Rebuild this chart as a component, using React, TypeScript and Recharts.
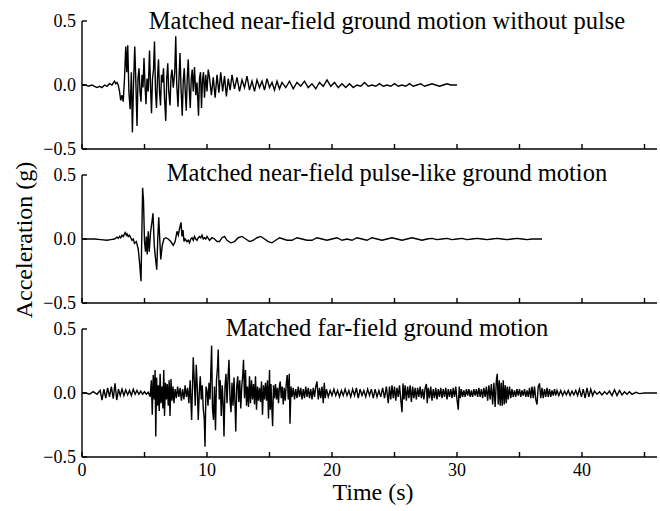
import { Line, LineChart, XAxis, YAxis } from 'recharts';

const FONT = '"Liberation Serif", "Times New Roman", Times, serif';

const X_TICKS = [0, 5, 10, 15, 20, 25, 30, 35, 40, 45];
const Y_TICKS = [-0.5, 0, 0.5];

const TITLES = [
  'Matched near-field ground motion without pulse',
  'Matched near-field pulse-like ground motion',
  'Matched far-field ground motion',
];

// [time (s), acceleration (g)]
const nearNoPulse: [number, number][] = [
  [0, 0], [0.3, 0.0], [0.5, -0.01], [0.8, 0.0], [1.0, -0.01], [1.2, -0.02], [1.4, -0.01], [1.6, -0.02],
  [1.8, 0.0], [2.0, -0.01], [2.2, 0.01], [2.4, 0.0], [2.6, 0.03], [2.7, 0.01], [2.8, 0.02], [2.9, 0.0],
  [3.0, -0.05], [3.1, -0.12], [3.2, -0.08], [3.3, -0.13], [3.4, 0.05], [3.5, 0.3], [3.58, 0.1], [3.66, 0.31],
  [3.75, -0.05], [3.85, -0.19], [3.95, 0.1], [4.03, -0.37], [4.12, 0.0], [4.22, 0.3], [4.3, 0.05], [4.4, -0.32],
  [4.48, 0.05], [4.56, 0.13], [4.64, -0.05], [4.72, -0.13], [4.8, 0.08], [4.88, -0.02], [4.96, 0.21], [5.04, 0.0],
  [5.12, -0.15], [5.2, 0.05], [5.3, -0.05], [5.4, 0.27], [5.48, 0.0], [5.56, -0.22], [5.64, 0.05], [5.72, 0.12],
  [5.8, 0.34], [5.88, -0.05], [5.96, -0.18], [6.04, 0.05], [6.12, 0.2], [6.2, -0.05], [6.28, -0.16], [6.36, 0.08],
  [6.44, 0.02], [6.52, 0.13], [6.6, -0.1], [6.7, -0.28], [6.78, 0.05], [6.86, 0.17], [6.94, -0.05], [7.04, -0.16],
  [7.12, 0.06], [7.2, 0.12], [7.3, -0.02], [7.42, 0.1], [7.5, 0.38], [7.58, 0.0], [7.68, -0.17], [7.76, 0.05],
  [7.84, 0.25], [7.92, -0.02], [8.02, -0.24], [8.1, 0.03], [8.18, 0.13], [8.26, -0.05], [8.34, -0.2], [8.42, 0.05],
  [8.5, 0.2], [8.58, -0.03], [8.66, -0.18], [8.74, 0.05], [8.82, 0.12], [8.9, -0.05], [9.0, 0.14], [9.1, -0.08],
  [9.2, 0.02], [9.32, -0.24], [9.4, 0.05], [9.48, 0.1], [9.56, -0.18], [9.64, 0.04], [9.72, 0.1], [9.8, -0.1],
  [9.9, 0.08], [10.0, -0.05], [10.1, 0.12], [10.2, 0.06], [10.35, -0.08], [10.5, 0.06], [10.65, -0.1], [10.8, 0.08],
  [10.95, -0.06], [11.1, 0.1], [11.25, -0.05], [11.4, 0.07], [11.55, -0.09], [11.7, 0.05], [11.85, -0.04], [12.0, 0.08],
  [12.2, -0.03], [12.4, 0.06], [12.6, -0.05], [12.8, 0.04], [13.0, -0.02], [13.2, 0.07], [13.4, -0.04], [13.6, 0.03],
  [13.8, -0.05], [14.0, 0.04], [14.2, -0.02], [14.4, 0.03], [14.6, -0.04], [14.8, 0.05], [15.0, -0.02], [15.2, 0.02],
  [15.4, -0.04], [15.6, 0.03], [15.8, -0.03], [16.0, 0.02], [16.3, -0.02], [16.6, 0.03], [16.9, -0.03], [17.2, 0.02],
  [17.5, -0.01], [17.8, 0.03], [18.1, -0.02], [18.4, 0.01], [18.7, -0.03], [19.0, 0.02], [19.3, -0.01], [19.6, 0.04],
  [19.9, -0.01], [20.2, 0.02], [20.5, -0.02], [20.8, 0.01], [21.1, -0.02], [21.4, 0.01], [21.7, -0.02], [22.0, 0.0],
  [22.3, -0.01], [22.6, 0.02], [22.9, -0.01], [23.2, 0.0], [23.5, -0.01], [23.8, 0.01], [24.1, -0.01], [24.4, 0.0],
  [24.7, -0.01], [25.0, 0.01], [25.3, -0.01], [25.6, 0.0], [25.9, -0.01], [26.2, 0.01], [26.5, -0.01], [26.8, 0.0],
  [27.1, 0.01], [27.4, -0.01], [27.7, 0.0], [28.0, 0.01], [28.3, 0.0], [28.6, -0.01], [28.9, 0.0], [29.2, 0.01],
  [29.5, 0.0], [30.0, 0.0],
];

const nearPulse: [number, number][] = [
  [0, 0], [0.5, 0], [1.0, 0.0], [1.5, -0.005], [2.0, -0.01], [2.3, -0.005], [2.6, 0.0], [2.8, 0.015],
  [2.9, 0.005], [3.0, 0.02], [3.1, 0.01], [3.2, 0.03], [3.3, 0.02], [3.45, 0.05], [3.55, 0.03], [3.6, 0.04],
  [3.7, 0.02], [3.8, 0.03], [3.9, 0.01], [4.0, -0.01], [4.1, 0.0], [4.2, -0.035], [4.35, -0.02],
  [4.5, -0.08], [4.62, -0.2], [4.72, -0.33], [4.78, 0.0], [4.85, 0.4], [4.92, 0.3], [5.0, -0.02], [5.08, -0.1],
  [5.15, 0.02], [5.22, -0.12], [5.3, 0.06], [5.38, -0.1], [5.48, 0.05], [5.58, 0.12], [5.68, 0.2], [5.78, -0.05],
  [5.88, -0.15], [5.98, -0.24], [6.06, 0.0], [6.14, 0.17], [6.22, 0.0], [6.3, -0.16], [6.42, -0.05], [6.55, 0.0],
  [6.7, 0.01], [6.9, 0.0], [7.1, -0.02], [7.3, -0.05], [7.45, -0.02], [7.6, 0.06], [7.7, 0.03], [7.8, 0.08],
  [7.92, 0.13], [8.0, 0.02], [8.08, 0.07], [8.16, -0.02], [8.25, 0.0], [8.4, -0.02], [8.5, -0.01], [8.6, -0.03],
  [8.7, 0.0], [8.8, 0.01], [8.9, -0.01], [9.0, 0.02], [9.1, 0.0], [9.2, -0.01], [9.3, 0.01], [9.4, 0.02],
  [9.5, 0.01], [9.6, 0.03], [9.7, 0.0], [9.8, 0.01], [9.9, 0.0], [10.0, 0.02], [10.2, -0.01], [10.4, 0.01],
  [10.6, 0.0], [10.8, -0.02], [11.0, -0.02], [11.2, 0.01], [11.4, 0.02], [11.6, -0.01], [11.9, -0.03], [12.2, -0.02],
  [12.5, 0.01], [12.8, 0.02], [13.1, 0.0], [13.4, -0.02], [13.7, -0.01], [14.0, 0.01], [14.3, 0.02], [14.6, 0.0],
  [14.9, -0.02], [15.2, -0.03], [15.5, -0.01], [15.8, 0.01], [16.1, 0.0], [16.4, -0.01], [16.8, -0.01], [17.2, 0.01],
  [17.6, 0.0], [18.0, -0.01], [18.4, -0.01], [18.8, 0.01], [19.2, 0.0], [19.6, -0.01], [20.0, 0.0], [20.4, 0.01],
  [20.8, -0.01], [21.2, 0.0], [21.6, -0.01], [22.0, 0.01], [22.4, 0.0], [22.8, -0.01], [23.2, 0.01], [23.6, 0.0],
  [24.0, -0.01], [24.4, 0.0], [24.8, 0.01], [25.2, 0.0], [25.6, -0.01], [26.0, 0.0], [26.4, 0.01], [26.8, 0.0],
  [27.2, -0.01], [27.6, 0.0], [28.0, 0.005], [28.4, -0.005], [28.8, 0.0], [29.2, 0.005], [29.6, -0.005], [30.0, 0.0],
  [30.4, 0.005], [30.8, -0.005], [31.2, 0.0], [31.6, 0.005], [32.0, 0.0], [32.4, -0.005], [32.8, 0.0], [33.2, 0.005],
  [33.6, 0.0], [34.0, -0.005], [34.4, 0.0], [34.8, 0.005], [35.2, 0.0], [35.6, -0.005], [36.0, 0.0], [36.5, 0.0],
  [36.8, 0.0],
];

const farField: [number, number][] = [
  [0, 0], [0.3, 0.0], [0.6, -0.01], [0.9, 0.01], [1.2, -0.01], [1.45, 0.02], [1.6, -0.055], [1.75, 0.03],
  [1.9, -0.04], [2.05, 0.04], [2.2, -0.03], [2.35, 0.05], [2.5, -0.045], [2.64, 0.075], [2.78, -0.055], [2.92, 0.03],
  [3.06, -0.02], [3.2, 0.03], [3.35, -0.02], [3.5, 0.025], [3.65, -0.015], [3.8, 0.02], [3.95, -0.02], [4.1, 0.03],
  [4.25, -0.01], [4.4, 0.02], [4.55, -0.01], [4.7, 0.015], [4.85, -0.01], [5.0, 0.01], [5.15, -0.01], [5.3, 0.005],
  [5.45, -0.03], [5.55, 0.1], [5.62, -0.17], [5.7, 0.14], [5.78, -0.05], [5.85, 0.18], [5.9, -0.34], [5.97, 0.12],
  [6.04, -0.1], [6.11, 0.06], [6.18, -0.14], [6.25, 0.15], [6.32, -0.08], [6.4, 0.05], [6.47, -0.12], [6.54, 0.18],
  [6.6, -0.18], [6.68, 0.08], [6.75, -0.05], [6.82, 0.07], [6.9, -0.1], [6.97, 0.1], [7.04, -0.18], [7.12, 0.11],
  [7.2, -0.06], [7.28, 0.05], [7.36, -0.08], [7.45, 0.03], [7.55, -0.04], [7.65, 0.05], [7.75, -0.03], [7.85, 0.04],
  [7.95, -0.06], [8.05, 0.03], [8.15, -0.05], [8.25, 0.06], [8.35, -0.03], [8.45, 0.04], [8.55, -0.08], [8.65, 0.1],
  [8.77, -0.21], [8.9, 0.28], [8.98, 0.1], [9.06, -0.1], [9.14, 0.22], [9.22, 0.05], [9.3, -0.21], [9.38, 0.0],
  [9.46, 0.13], [9.54, -0.05], [9.62, 0.06], [9.7, -0.12], [9.78, -0.2], [9.84, -0.42], [9.92, 0.05], [10.0, 0.02],
  [10.08, -0.1], [10.16, 0.08], [10.24, -0.05], [10.3, 0.15], [10.37, 0.37], [10.44, -0.12], [10.52, -0.21], [10.6, 0.05],
  [10.68, -0.29], [10.76, 0.1], [10.84, 0.2], [10.9, 0.34], [10.98, -0.05], [11.06, 0.1], [11.14, -0.18], [11.22, 0.06],
  [11.3, -0.1], [11.36, -0.34], [11.44, 0.05], [11.52, 0.15], [11.6, -0.08], [11.68, 0.12], [11.76, 0.26], [11.84, -0.05],
  [11.92, -0.15], [12.0, 0.08], [12.08, -0.1], [12.16, 0.12], [12.24, -0.08], [12.3, -0.3], [12.38, 0.05], [12.46, 0.13],
  [12.54, -0.07], [12.62, 0.1], [12.7, -0.12], [12.78, 0.05], [12.86, 0.14], [12.92, 0.26], [13.0, -0.04], [13.08, 0.18],
  [13.16, -0.1], [13.24, 0.05], [13.32, -0.11], [13.4, 0.13], [13.48, -0.08], [13.56, 0.1], [13.64, -0.05], [13.72, 0.07],
  [13.8, -0.09], [13.88, 0.13], [13.96, -0.13], [14.04, 0.05], [14.12, -0.06], [14.2, 0.04], [14.28, -0.07], [14.36, 0.09],
  [14.44, -0.17], [14.52, 0.06], [14.6, -0.05], [14.68, 0.08], [14.76, -0.06], [14.84, 0.1], [14.92, -0.2], [15.0, 0.18],
  [15.06, -0.13], [15.12, 0.07], [15.18, -0.1], [15.25, -0.26], [15.32, 0.06], [15.4, -0.04], [15.48, 0.07], [15.56, -0.05],
  [15.64, 0.04], [15.72, -0.08], [15.8, 0.06], [15.86, 0.09], [15.94, -0.04], [16.02, 0.05], [16.1, -0.09], [16.18, 0.04],
  [16.26, -0.06], [16.34, 0.07], [16.42, 0.14], [16.5, -0.05], [16.58, 0.15], [16.64, -0.24], [16.72, 0.05], [16.8, -0.03],
  [16.9, 0.04], [17.0, -0.05], [17.1, 0.03], [17.2, -0.04], [17.3, 0.05], [17.4, -0.03], [17.5, 0.04], [17.6, -0.05],
  [17.7, 0.03], [17.8, -0.04], [17.9, 0.05], [18.0, -0.03], [18.1, 0.04], [18.2, -0.04], [18.3, 0.03], [18.4, -0.05],
  [18.5, 0.04], [18.6, -0.03], [18.7, 0.05], [18.8, 0.09], [18.9, -0.05], [19.0, 0.04], [19.1, -0.04], [19.2, 0.05],
  [19.3, -0.08], [19.38, 0.08], [19.46, -0.04], [19.56, 0.03], [19.7, -0.03], [19.85, 0.02], [20.0, -0.02], [20.15, 0.03],
  [20.3, -0.02], [20.45, 0.02], [20.6, -0.03], [20.75, 0.02], [20.9, -0.02], [21.05, 0.03], [21.2, -0.02], [21.35, 0.02],
  [21.5, -0.03], [21.65, 0.03], [21.8, -0.02], [21.95, 0.04], [22.1, -0.04], [22.25, 0.03], [22.4, -0.02], [22.55, 0.02],
  [22.7, -0.03], [22.85, 0.03], [23.0, -0.02], [23.15, 0.03], [23.3, -0.04], [23.45, 0.03], [23.6, -0.03], [23.75, 0.02],
  [23.9, -0.03], [24.05, 0.04], [24.2, -0.04], [24.35, 0.05], [24.5, -0.08], [24.6, 0.05], [24.7, -0.05], [24.8, 0.06],
  [24.9, -0.04], [25.0, 0.05], [25.1, -0.06], [25.2, 0.04], [25.3, -0.03], [25.4, 0.06], [25.5, -0.05], [25.6, -0.15],
  [25.68, 0.075], [25.76, -0.05], [25.85, 0.06], [25.95, -0.06], [26.05, 0.05], [26.15, -0.04], [26.25, 0.06], [26.35, -0.07],
  [26.45, 0.05], [26.55, -0.04], [26.65, 0.04], [26.75, -0.05], [26.85, 0.04], [26.95, -0.03], [27.05, 0.05], [27.15, -0.04],
  [27.25, 0.03], [27.35, -0.05], [27.45, 0.04], [27.55, 0.07], [27.62, -0.08], [27.7, 0.04], [27.8, -0.04], [27.9, 0.05],
  [28.0, -0.06], [28.1, 0.03], [28.2, -0.04], [28.3, 0.04], [28.4, -0.05], [28.5, 0.03], [28.6, -0.03], [28.7, 0.04],
  [28.8, -0.04], [28.9, 0.03], [29.0, -0.03], [29.1, 0.04], [29.2, -0.05], [29.3, 0.03], [29.4, -0.03], [29.5, 0.03],
  [29.6, -0.04], [29.7, 0.04], [29.8, -0.03], [29.9, 0.05], [30.0, -0.05], [30.1, -0.13], [30.18, 0.05], [30.26, -0.04],
  [30.35, 0.03], [30.45, -0.03], [30.55, 0.02], [30.65, -0.03], [30.75, 0.03], [30.85, -0.02], [30.95, 0.03], [31.05, -0.03],
  [31.15, 0.02], [31.25, -0.03], [31.35, 0.03], [31.45, -0.02], [31.55, 0.03], [31.65, -0.03], [31.75, 0.04], [31.85, -0.03],
  [31.95, 0.03], [32.05, -0.04], [32.15, 0.04], [32.25, -0.03], [32.35, 0.05], [32.45, -0.06], [32.55, 0.06], [32.65, -0.05],
  [32.75, 0.07], [32.85, -0.09], [32.95, 0.08], [33.05, -0.11], [33.15, 0.1], [33.22, 0.15], [33.3, -0.09], [33.38, 0.1],
  [33.46, -0.1], [33.54, 0.08], [33.62, -0.1], [33.7, 0.1], [33.78, -0.09], [33.86, 0.06], [33.94, -0.08], [34.02, 0.05],
  [34.1, -0.05], [34.2, 0.05], [34.3, -0.04], [34.4, 0.03], [34.5, -0.03], [34.6, 0.02], [34.7, -0.03], [34.8, 0.03],
  [34.9, -0.02], [35.0, 0.03], [35.1, -0.03], [35.2, 0.02], [35.3, -0.02], [35.4, 0.03], [35.5, -0.03], [35.6, 0.02],
  [35.7, -0.03], [35.8, 0.04], [35.9, -0.04], [36.0, 0.05], [36.1, -0.04], [36.2, 0.05], [36.3, -0.05], [36.4, -0.09],
  [36.5, 0.05], [36.6, 0.075], [36.7, -0.04], [36.8, 0.04], [36.9, -0.04], [37.0, 0.03], [37.1, -0.03], [37.2, 0.04],
  [37.3, -0.03], [37.4, 0.03], [37.5, -0.03], [37.6, 0.02], [37.7, -0.02], [37.8, 0.03], [37.9, -0.02], [38.0, 0.02],
  [38.15, -0.02], [38.3, 0.02], [38.45, -0.02], [38.6, 0.015], [38.75, -0.015], [38.9, 0.02], [39.05, -0.02], [39.2, 0.015],
  [39.35, -0.015], [39.5, 0.02], [39.65, -0.02], [39.8, 0.03], [39.95, -0.03], [40.1, 0.03], [40.25, -0.04], [40.4, 0.04],
  [40.55, -0.03], [40.7, 0.03], [40.85, -0.02], [41.0, 0.015], [41.2, -0.01], [41.4, 0.01], [41.6, -0.015], [41.8, 0.01],
  [42.0, -0.01], [42.2, 0.015], [42.4, -0.02], [42.6, 0.025], [42.8, -0.02], [43.0, 0.02], [43.2, -0.015], [43.4, 0.01],
  [43.6, -0.01], [43.8, 0.01], [44.0, -0.01], [44.3, 0.005], [44.6, -0.005], [45.0, 0.0], [45.5, 0.0], [46.0, 0.0],
];

const SERIES = [nearNoPulse, nearPulse, farField];
const PANEL_TOPS = [21, 175, 329];
const TITLE_BASELINES = [29, 181, 336];
const PLOT_H = 128;
const PAD = 10;

const AXIS_LINE = { stroke: '#000', strokeWidth: 1.4 };
const TICK_FONT = { fill: '#000', fontSize: 18, fontFamily: FONT };

const fmtY = (v: number) => (v < 0 ? '\u2212' : '') + Math.abs(v).toFixed(1);

function Panel({ rows, top, showLabels }: { rows: [number, number][]; top: number; showLabels: boolean }) {
  const data = rows.map(([t, a]) => ({ t, a }));
  return (
    <div style={{ position: 'absolute', left: 0, top: top - PAD }}>
      <LineChart
        width={660}
        height={PLOT_H + PAD + 40}
        data={data}
        margin={{ top: PAD, right: 3, left: 22, bottom: 0 }}
      >
        <XAxis
          type="number"
          dataKey="t"
          domain={[0, 46]}
          ticks={X_TICKS}
          interval={0}
          height={40}
          tickSize={-5}
          tickMargin={11}
          axisLine={AXIS_LINE}
          tickLine={AXIS_LINE}
          tick={TICK_FONT}
          tickFormatter={(v) => (showLabels && v % 10 === 0 ? String(v) : '')}
        />
        <YAxis
          type="number"
          domain={[-0.5, 0.5]}
          ticks={Y_TICKS}
          interval={0}
          width={60}
          tickSize={-5}
          tickMargin={11}
          axisLine={AXIS_LINE}
          tickLine={AXIS_LINE}
          tick={TICK_FONT}
          tickFormatter={fmtY}
        />
        <Line
          type="linear"
          dataKey="a"
          stroke="#000"
          strokeWidth={1.4}
          dot={false}
          isAnimationActive={false}
        />
      </LineChart>
    </div>
  );
}

export default function App() {
  return (
    <div style={{ position: 'absolute', left: 0, top: 0, width: 660, height: 511, background: '#fff' }}>
      {SERIES.map((rows, i) => (
        <Panel key={i} rows={rows} top={PANEL_TOPS[i]} showLabels={i === SERIES.length - 1} />
      ))}
      <svg
        width={660}
        height={511}
        style={{ position: 'absolute', left: 0, top: 0, pointerEvents: 'none' }}
        fontFamily={FONT}
      >
        {TITLES.map((title, i) => (
          <text key={i} x={387} y={TITLE_BASELINES[i]} textAnchor="middle" fontSize={24.5} fill="#000">
            {title}
          </text>
        ))}
        <text x={373} y={500} textAnchor="middle" fontSize={24} fill="#000">
          Time (s)
        </text>
        <text
          x={0}
          y={0}
          transform="translate(32, 240) rotate(-90)"
          textAnchor="middle"
          fontSize={24}
          fill="#000"
        >
          Acceleration (g)
        </text>
      </svg>
    </div>
  );
}
